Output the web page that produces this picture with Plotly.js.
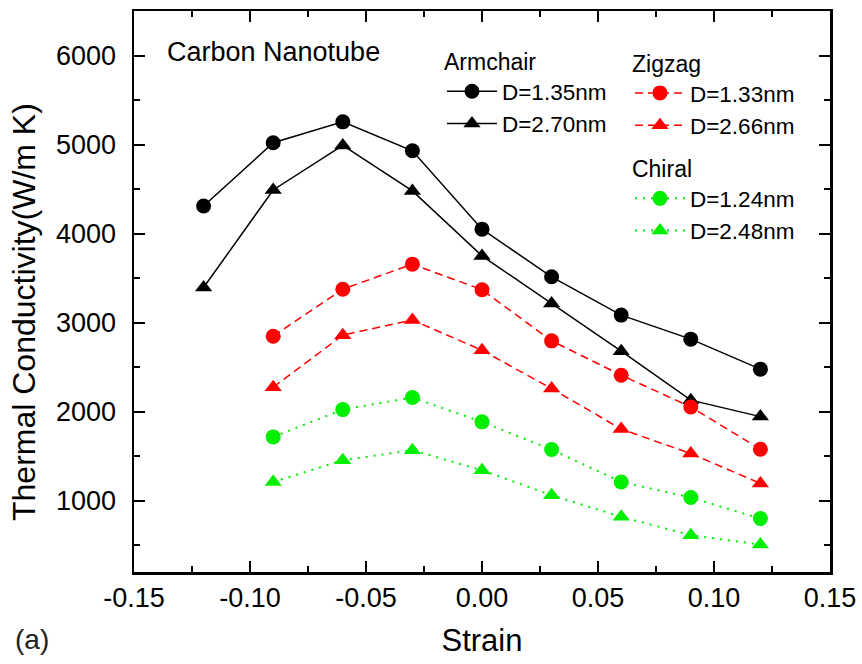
<!DOCTYPE html>
<html>
<head>
<meta charset="utf-8">
<script src="https://cdn.plot.ly/plotly-3.0.1.min.js"></script>
<style>html,body{margin:0;padding:0;background:#fff;}#chart{width:862px;height:664px;}</style>
</head>
<body>
<div id="chart"></div>
<script>
// Strain values
var strainArm = [-0.12, -0.09, -0.06, -0.03, 0.00, 0.03, 0.06, 0.09, 0.12];
var strainOther = [-0.09, -0.06, -0.03, 0.00, 0.03, 0.06, 0.09, 0.12];

// Thermal conductivity (W/m K)
var armchair135 = [4310, 5020, 5255, 4930, 4050, 3515, 3085, 2815, 2478];
var armchair270 = [3395, 4490, 4990, 4480, 3750, 3215, 2680, 2130, 1945];
var zigzag133 = [2848, 3376, 3657, 3370, 2796, 2410, 2054, 1579];
var zigzag266 = [2275, 2860, 3030, 2690, 2260, 1805, 1530, 1195];
var chiral124 = [1717, 2024, 2159, 1886, 1575, 1211, 1036, 800];
var chiral248 = [1210, 1455, 1568, 1342, 1062, 820, 613, 508];

// Axis ticks
var xTickVals = [-0.15, -0.10, -0.05, 0.00, 0.05, 0.10, 0.15];
var xTickText = ['-0.15', '-0.10', '-0.05', '0.00', '0.05', '0.10', '0.15'];
var yTickVals = [1000, 2000, 3000, 4000, 5000, 6000];
var yTickText = ['1000', '2000', '3000', '4000', '5000', '6000'];

var FONT = 'Arial, "Liberation Sans", Helvetica, sans-serif';

function mk(x, y, name, color, dash, width, symbol, legend) {
  return {
    x: x, y: y, name: name, type: 'scatter', mode: 'lines+markers',
    line: {color: color, dash: dash, width: width},
    marker: {color: color, symbol: symbol, size: 15, line: {width: 0}},
    legend: legend
  };
}

var traces = [
  mk(strainArm, armchair135, 'D=1.35nm', '#000000', 'solid', 1.5, 'circle', 'legend'),
  mk(strainArm, armchair270, 'D=2.70nm', '#000000', 'solid', 1.5, 'triangle-up', 'legend'),
  mk(strainOther, zigzag133, 'D=1.33nm', '#ff0000', '8px,5px', 1.5, 'circle', 'legend2'),
  mk(strainOther, zigzag266, 'D=2.66nm', '#ff0000', '8px,5px', 1.5, 'triangle-up', 'legend2'),
  mk(strainOther, chiral124, 'D=1.24nm', '#00ee00', '2px,6px', 2, 'circle', 'legend3'),
  mk(strainOther, chiral248, 'D=2.48nm', '#00ee00', '2px,6px', 2, 'triangle-up', 'legend3')
];

function leg(x, y, title) {
  return {
    x: x, y: y, xanchor: 'left', yanchor: 'top',
    bgcolor: 'rgba(0,0,0,0)', borderwidth: 0,
    font: {family: FONT, size: 22.5, color: '#000'},
    title: {text: title, side: 'top', font: {family: FONT, size: 23, color: '#000'}},
    itemwidth: 50, tracegroupgap: 0
  };
}

var axisCommon = {
  showline: true, linecolor: '#000', linewidth: 2.5, mirror: 'allticks',
  ticks: 'inside', ticklen: 11, tickwidth: 2, tickcolor: '#000',
  showgrid: false, zeroline: false,
  tickfont: {family: FONT, size: 27, color: '#000'}
};

var layout = {
  width: 862, height: 664,
  margin: {l: 134, r: 32, t: 11, b: 92},
  paper_bgcolor: '#fff', plot_bgcolor: '#fff',
  showlegend: true,
  font: {family: FONT, color: '#000'},
  xaxis: Object.assign({}, axisCommon, {
    range: [-0.15, 0.15], tickmode: 'array', tickvals: xTickVals, ticktext: xTickText,
    ticklabelstandoff: 0,
    minor: {tickmode: 'linear', tick0: 0, dtick: 0.025, ticks: 'inside', ticklen: 6, tickwidth: 2, tickcolor: '#000'},
    title: {text: 'Strain', font: {family: FONT, size: 31, color: '#000'}, standoff: 18}
  }),
  yaxis: Object.assign({}, axisCommon, {
    range: [200, 6500], tickmode: 'array', tickvals: yTickVals, ticktext: yTickText,
    ticklabelstandoff: 10,
    minor: {tickmode: 'linear', tick0: 0, dtick: 500, ticks: 'inside', ticklen: 6, tickwidth: 2, tickcolor: '#000'}
  }),
  legend: leg(0.4425, 0.948, 'Armchair'),
  legend2: leg(0.7126, 0.945, 'Zigzag'),
  legend3: leg(0.7126, 0.757, 'Chiral'),
  annotations: [
    {text: 'Thermal Conductivity(W/m K)', xref: 'paper', yref: 'paper', x: -0.158, y: 0.4635,
     xanchor: 'center', yanchor: 'middle', textangle: -90, showarrow: false,
     font: {family: FONT, size: 32, color: '#000'}},
    {text: 'Carbon Nanotube', xref: 'paper', yref: 'paper', x: 0.0445, y: 0.927,
     xanchor: 'left', yanchor: 'middle', showarrow: false,
     font: {family: FONT, size: 27, color: '#000'}},
    {text: '(a)', xref: 'paper', yref: 'paper', x: -0.1739, y: -0.1212,
     xanchor: 'left', yanchor: 'middle', showarrow: false,
     font: {family: FONT, size: 28, color: '#222'}}
  ]
};

Plotly.newPlot('chart', traces, layout, {displayModeBar: false, staticPlot: true});
</script>
</body>
</html>
